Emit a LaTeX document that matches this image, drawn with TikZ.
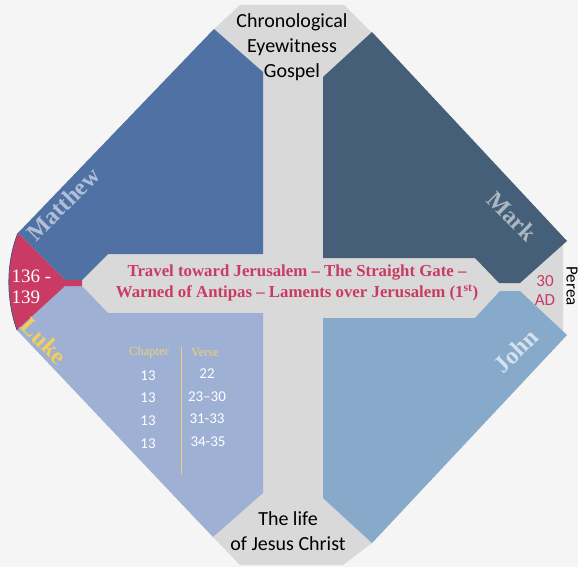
\documentclass[tikz,border=0pt]{standalone}
\usepackage{fontspec}
\setmainfont{Liberation Serif}
\setsansfont{Carlito}
\usepackage{tikz}
\definecolor{pagebg}{HTML}{F5F5F5}
\definecolor{crossgray}{HTML}{D9D9D9}
\definecolor{mattblue}{HTML}{4F71A4}
\definecolor{markblue}{HTML}{445F77}
\definecolor{lukeblue}{HTML}{9EB1D4}
\definecolor{johnblue}{HTML}{87AACB}
\definecolor{crimson}{HTML}{C93B62}
\definecolor{lukegold}{HTML}{F4CF55}
\definecolor{headgold}{HTML}{EFD07A}

\begin{document}
\begin{tikzpicture}[x=1pt,y=-1pt,
  crosstext/.style={font=\sffamily\fontsize{20}{25}\selectfont,align=center,text=black},
  gospel/.style={font=\rmfamily\bfseries\fontsize{24}{24}\selectfont},
  tabhead/.style={font=\rmfamily\fontsize{12.5}{12.5}\selectfont,text=headgold},
  tabnum/.style={font=\sffamily\fontsize{15}{15}\selectfont,text=white}]
  \fill[pagebg] (0,0) rectangle (578,567);
  \useasboundingbox (0,0) rectangle (578,567);
  \fill[crossgray]
    (240,5) -- (344,5) -- (372,33) -- (567,241) -- (563,241)
    -- (563,335) -- (567,335) -- (372,543) -- (343,565) -- (240,565)
    -- (213,537) -- (17,330) -- (18,233) -- (214,29) -- cycle;
  \fill[mattblue]
    (214,29) -- (263,72) -- (263,254) -- (108,254)
    -- (82,280) -- (65,280) -- (18,233) -- cycle;
  \fill[markblue]
    (372,32) -- (567,241) -- (520,283) -- (499,283)
    -- (475,258) -- (323,258) -- (323,77) -- cycle;
  \fill[lukeblue]
    (17,330) -- (65,286) -- (82,286) -- (108,313)
    -- (263,313) -- (263,493) -- (213,537) -- cycle;
  \fill[johnblue]
    (323,318) -- (475,318) -- (500,291) -- (520,291)
    -- (567,335) -- (372,543) -- (323,498) -- cycle;
  \fill[crimson]
    (18,233) -- (65,280) -- (82,280) -- (82,286) -- (65,286) -- (17,330)
    .. controls (6,300) and (6,262) .. (18,233);
  \draw[mattblue!80!black,line width=0.8pt]
    (17,330) .. controls (6,300) and (6,262) .. (18,233);
  \node[crosstext] (eyewitness) at (292,47) {Chronological\\Eyewitness\\Gospel};
  \node[crosstext] (lifeofjesus) at (288,531) {The life\\of Jesus Christ};
  \node[font=\rmfamily\bfseries\fontsize{16.8}{21}\selectfont,text=crimson,align=center]
    (travel) at (297,283)
    {Travel toward Jerusalem – The Straight Gate –\\Warned of Antipas – Laments over Jerusalem (1\textsuperscript{st})};
  \node[font=\rmfamily\fontsize{19}{21}\selectfont,text=white,align=left,anchor=west]
    (chapters) at (8,287) {136 -\\139};
  \node[font=\sffamily\fontsize{17}{19}\selectfont,text=crimson,align=center]
    (year) at (545,290) {30\\AD};
  \node[font=\sffamily\fontsize{17}{17}\selectfont,rotate=-90]
    (perea) at (572,286) {Perea};
  \node[gospel,text=mattblue!45!white,rotate=45] (matthew) at (63,204) {Matthew};
  \node[gospel,text=markblue!45!white,rotate=-45] (mark) at (512,216) {Mark};
  \node[gospel,text=lukegold,rotate=-45] (luke) at (44,341) {Luke};
  \node[gospel,text=johnblue!35!white,rotate=45] (john) at (516,351) {John};
  \node[tabhead] (chapter) at (149,352) {Chapter};
  \node[tabhead] (verse) at (205,352) {Verse};
  \draw[headgold] (181,347) -- (181,475);
  \node[tabnum] (chapA) at (148,376) {13};
  \node[tabnum] (chapB) at (148,398) {13};
  \node[tabnum] (chapC) at (148,421) {13};
  \node[tabnum] (chapD) at (148,444) {13};
  \node[tabnum] (verseA) at (207,374) {22};
  \node[tabnum] (verseB) at (207,397) {23–30};
  \node[tabnum] (verseC) at (207,419) {31-33};
  \node[tabnum] (verseD) at (208,442) {34-35};
\end{tikzpicture}
\end{document}
